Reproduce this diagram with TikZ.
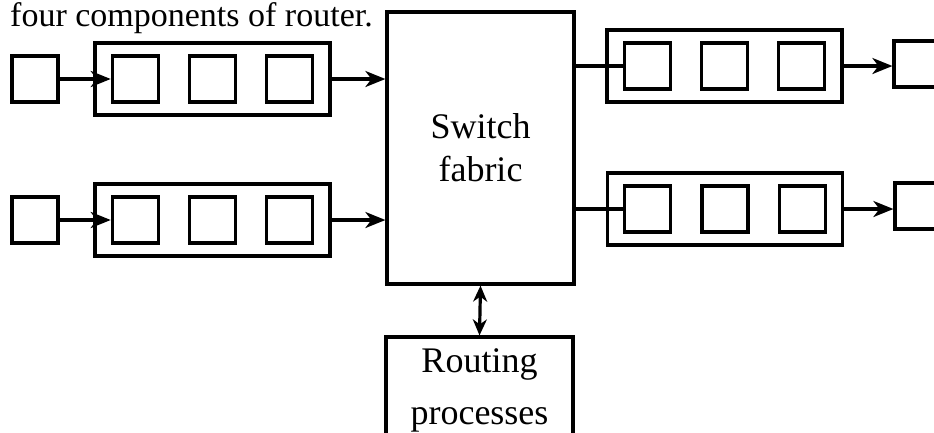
\documentclass[tikz,border=0pt]{standalone}
\usepackage{fontspec}
\setmainfont{Liberation Serif}
\usetikzlibrary{arrows.meta,positioning}
\tikzset{
cell/.style={draw, line width=3.2pt, minimum width=46pt, minimum height=46pt, inner sep=0pt},
queue/.style={draw, line width=3.2pt, minimum width=235pt, minimum height=72pt, inner sep=0pt},
bigbox/.style={draw, line width=3.2pt, align=center, inner sep=0pt},
arr/.style={line width=3.2pt, -{Stealth[length=20pt, width=16pt, inset=6pt]}},
dbl/.style={line width=3.2pt, {Stealth[length=16pt, width=14pt, inset=5pt]}-{Stealth[length=16pt, width=14pt, inset=5pt]}},
link/.style={line width=3.2pt}
}
\begin{document}
\begin{tikzpicture}[x=1pt, y=-1pt, node distance=28pt]
\useasboundingbox (0,0) rectangle (934,432);
\clip (0,0) rectangle (934,432);
\node[anchor=base west, inner sep=0pt, font=\fontsize{34}{40}\selectfont] (caption) at (10,26) {four components of router.};
% central blocks
\node[bigbox, minimum width=187pt, minimum height=272pt, font=\fontsize{36}{43}\selectfont] (fabric) at (480.5,148) {Switch\\fabric};
\node[bigbox, minimum width=187pt, minimum height=106pt, font=\fontsize{36}{52}\selectfont] (routing) at (479.5,390) {Routing\\processes};
% input and output ports
\node[queue] (inqA) at (212.5,79) {};
\node[queue] (inqB) at (212.5,220) {};
\node[queue] (outqA) at (724.5,66) {};
\node[queue] (outqB) at (725,209) {};
\node[cell] (inA) at (35,79) {};
\node[cell] (inB) at (35,220) {};
\node[cell] (outA) at (917,64) {};
\node[cell] (outB) at (918,206) {};
\foreach \q in {inqA, inqB, outqA, outqB} {
\node[cell] (\q-2) at (\q) {};
\node[cell, left=of \q-2] (\q-1) {};
\node[cell, right=of \q-2] (\q-3) {};
}
\foreach \a/\b in {inA/inqA-1, inB/inqB-1}
\draw[arr] (\a) -- (\b);
\foreach \q in {inqA, inqB}
\draw[arr] (\q.east) -- (\q.east -| fabric.west);
\foreach \q in {outqA, outqB}
\draw[link] (\q-1.west -| fabric.east) -- (\q-1.west);
\foreach \q/\o in {outqA/outA, outqB/outB}
\draw[arr] (\q.east) -- (\q.east -| \o.west);
\draw[dbl] (fabric.south) -- (routing.north);
\end{tikzpicture}
\end{document}
